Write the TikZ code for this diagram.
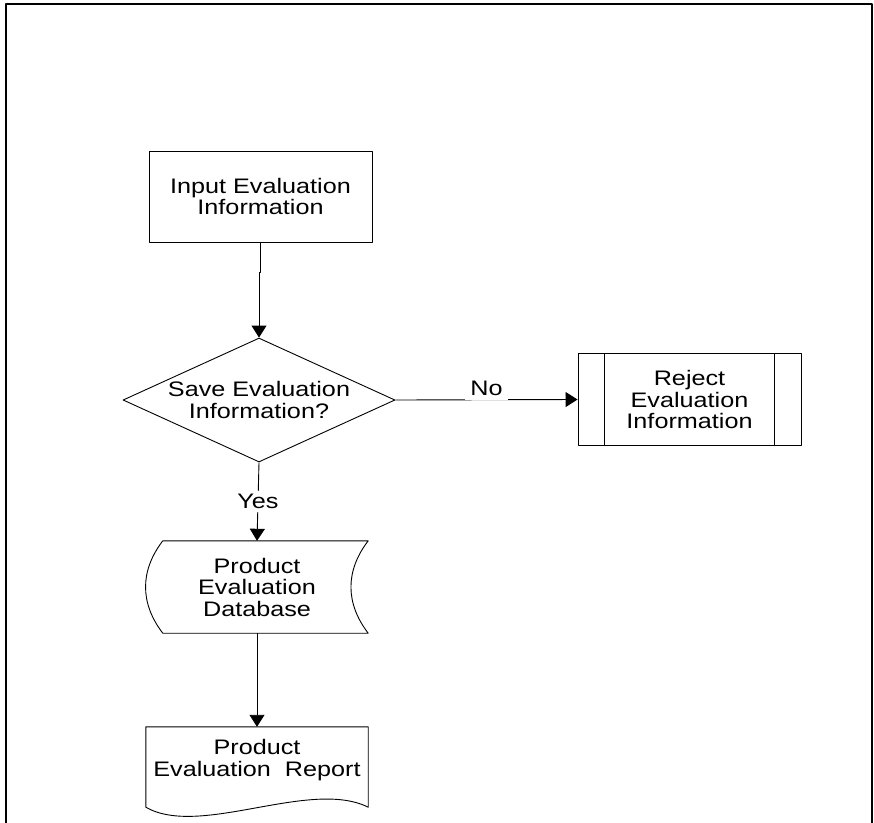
\documentclass[tikz,border=0pt]{standalone}
\usepackage{fontspec}
\setmainfont{Liberation Sans}[FakeStretch=1.2]
\usetikzlibrary{arrows.meta,calc,positioning,shapes.geometric}

\begin{document}
\begin{tikzpicture}[x=1pt, y=-1pt, >={Triangle[length=12pt,width=15pt]}, line join=round,
	every node/.style={font=\fontsize{21}{21.5}\selectfont, align=center},
	shp/.style={draw, line width=0.9pt, inner sep=0pt},
	flow/.style={->, line width=0.9pt},
	lbl/.style={fill=white, inner xsep=5pt, inner ysep=4pt}]
	\useasboundingbox (0,0) rectangle (874,822);
	
	% --- 1. FRAME (open at the bottom) ---
	\draw[line width=2pt] (6,830) -- (6,4) -- (871.5,4) -- (871.5,830);
	
	% --- 2. SHAPES ---
	\node[shp, rectangle, minimum width=223, minimum height=91] (input) at (260.5,196.5) {Input Evaluation\\Information};
	\node[shp, diamond, shape aspect=2.2, minimum width=272, minimum height=124] (save) at (259,400) {Save Evaluation\\Information?};
	
	\node[shp, rectangle, minimum width=223, minimum height=92] (reject) at (689.5,399.5) {Reject\\Evaluation\\Information};
	\draw[shp] ($(reject.north west)+(27,0)$) -- ($(reject.south west)+(27,0)$);
	\draw[shp] ($(reject.north east)+(-27,0)$) -- ($(reject.south east)+(-27,0)$);
	
	% stored data
	\node[minimum width=222, minimum height=92, inner sep=0pt] (db) at (257,587) {Product\\Evaluation\\Database};
	\draw[shp] ($(db.north west)+(17,0)$) -- (db.north east)
		.. controls +(-23,30) and +(-23,-30) .. (db.south east)
		-- ($(db.south west)+(17,0)$)
		.. controls +(-23,-30) and +(-23,30) .. ($(db.north west)+(17,0)$) -- cycle;
	
	% document
	\node[minimum width=222, minimum height=66, inner sep=0pt] (report) at (257,760) {Product\\Evaluation\ \ Report};
	\draw[shp] (report.north west) -- (report.north east) -- ($(report.south east)+(0,14)$)
		.. controls +(-58,-29) and +(54,31) .. ($(report.south west)+(0,14)$) -- cycle;
	
	% --- 3. CONNECTORS ---
	\draw[flow] (input.south) -- ++(0,30) -| (save.north);
	\draw[flow] (save.east) -- node[lbl, yshift=11pt] (no) {No} (reject.west);
	\draw[flow] (save.south) -- node[lbl, inner ysep=3pt] (yes) {Yes} (db.north);
	\draw[flow] (db.south) -- (report.north);
\end{tikzpicture}
\end{document}
